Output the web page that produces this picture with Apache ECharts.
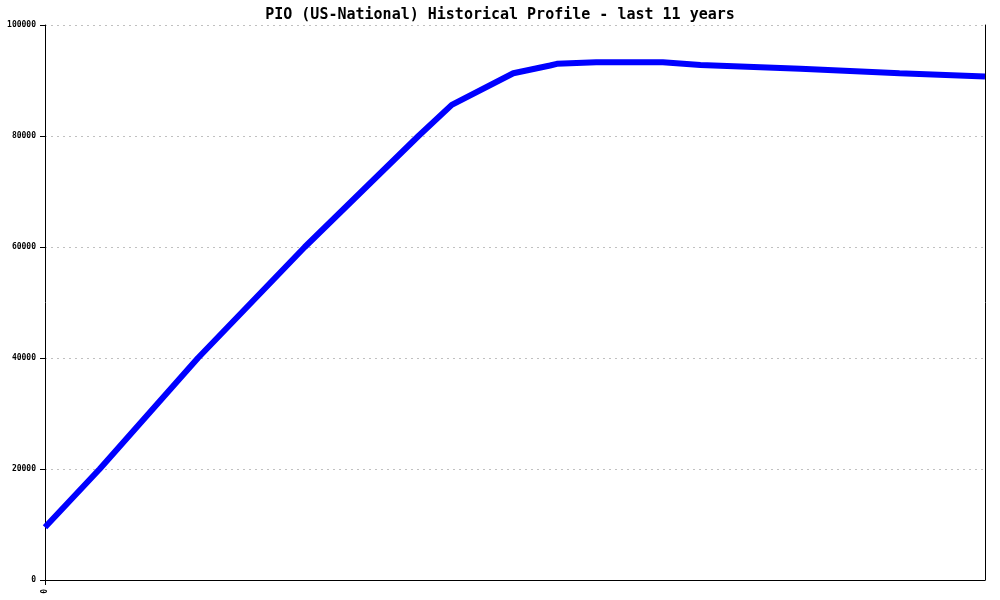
<!DOCTYPE html>
<html>
<head>
<meta charset="utf-8">
<script src="https://cdn.jsdelivr.net/npm/echarts@6/dist/echarts.min.js"></script>
<style>html,body{margin:0;padding:0;background:#fff}#c{width:1000px;height:600px}</style>
</head>
<body>
<div id="c"></div>
<script>
// x positions in years (0..11)
const years = [0, 0.64, 1.79, 3.04, 4.37, 4.76, 5.48, 5.91, 5.99, 6.45, 7.23, 7.67, 8.84, 10.0, 11.0];
const values = [9500, 20000, 40000, 60000, 80000, 85600, 91300, 92700, 93000, 93300, 93300, 92800, 92100, 91300, 90700];
const yTicks = [0, 20000, 40000, 60000, 80000, 100000];
const xLabels = ['0'];
const titleText = 'PIO (US-National) Historical Profile - last 11 years';

const data = years.map((x, i) => [x, values[i]]);
const chart = echarts.init(document.getElementById('c'));
const mono = 'DejaVu Sans Mono';
chart.setOption({
  animation: false,
  backgroundColor: '#fff',
  title: {
    text: titleText, left: 'center', top: 3,
    textStyle: { fontFamily: mono, fontSize: 15, fontWeight: 'bold', color: '#000' }
  },
  grid: { left: 45, right: 15, top: 25, bottom: 20 },
  xAxis: {
    type: 'value', min: 0, max: 11,
    axisLine: { show: true, lineStyle: { color: '#000', width: 1 } },
    axisTick: { show: true, customValues: [0], length: 5, lineStyle: { color: '#000' } },
    axisLabel: { customValues: [0], rotate: 90, formatter: () => xLabels[0], fontFamily: mono, fontSize: 8, fontWeight: 'bold', color: '#000', margin: 9 },
    splitLine: { show: false }
  },
  yAxis: [{
    type: 'value', min: yTicks[0], max: yTicks[yTicks.length - 1], interval: 20000,
    axisLine: { show: true, lineStyle: { color: '#000', width: 1 } },
    axisTick: { show: true, length: 5, lineStyle: { color: '#000' } },
    axisLabel: { formatter: v => String(v), fontFamily: mono, fontSize: 8, fontWeight: 'bold', color: '#000', margin: 9 },
    splitLine: { show: true, lineStyle: { color: '#c0c0c0', type: [2, 4], width: 1 } }
  }, {
    type: 'value', min: 0, max: 100000, interval: 20000, position: 'right',
    axisLine: { show: true, lineStyle: { color: '#000', width: 1 } },
    axisTick: { show: false }, axisLabel: { show: false }, splitLine: { show: false }
  }],
  series: [{
    type: 'line', data: data, yAxisIndex: 0,
    symbol: 'none', lineStyle: { color: '#0000ff', width: 6 },
    itemStyle: { color: '#0000ff' }
  }]
});
</script>
</body>
</html>
